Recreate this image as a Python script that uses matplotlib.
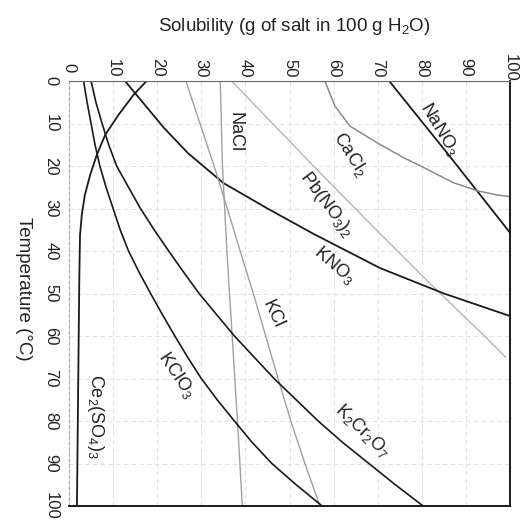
# Solubility curves of some salts, drawn turned on its side:
# solubility runs along the top, temperature runs down the left side.

import matplotlib
matplotlib.use("Agg")
import matplotlib.pyplot as plt


# Data (temperature in deg C, solubility in g / 100 g water)

ticks = [0, 10, 20, 30, 40, 50, 60, 70, 80, 90, 100]
tick_labels = ["0", "10", "20", "30", "40", "50", "60", "70", "80", "90", "100"]

nano3_t = [0, 16.5, 27, 35.7]
nano3_s = [72.6, 85.4, 93.4, 100]

cacl2_t = [0, 5.9, 10.6, 14.5, 18, 20.7, 23.9, 25.8, 26.8, 27.2]
cacl2_s = [58, 60.3, 63.7, 69.8, 75.8, 81.1, 87.1, 92.5, 97, 100]

pbno3_t = [0, 12, 24, 36, 48, 60, 65]
pbno3_s = [36.9, 48, 59.2, 70.6, 82.2, 94.2, 99]

kno3_t = [0, 6, 11, 17, 24, 30, 36, 44, 50, 55.3]
kno3_s = [12.7, 17.5, 21.5, 27, 35, 45, 55.5, 70.5, 85, 100]

nacl_t = [0, 20, 40, 60, 80, 100]
nacl_s = [34.3, 34.8, 35.8, 37, 38.2, 39.3]

kcl_t = [0, 10, 20, 30, 40, 50, 60, 70, 80, 90, 100]
kcl_s = [26.5, 29.7, 32.9, 35.9, 38.8, 41.8, 44.6, 47.4, 50.3, 53.5, 56.9]

k2cr2o7_t = [0, 5, 10, 15, 20, 25, 30, 35, 40, 45, 50, 55, 60, 65, 70, 75, 80, 85, 90, 95, 100]
k2cr2o7_s = [5, 6.1, 7.5, 9, 10.8, 13.5, 16.2, 19.3, 22.6, 26, 29.5, 33.5, 37.5,
             42, 46.5, 51.5, 56.5, 62, 68, 74, 80.3]

kclo3_t = [0, 5, 10, 15, 20, 25, 30, 35, 40, 45, 50, 55, 60, 65, 70, 75, 80, 85, 90, 95, 100]
kclo3_s = [3.3, 4.1, 5, 5.9, 7, 8.4, 10, 11.6, 13.5, 15.9, 18.5, 21.2, 24, 26.9,
           30, 33.6, 37.5, 41.5, 46, 51.5, 57.4]

ce2so43_t = [0, 3.3, 8, 12.7, 17.4, 22.1, 26.8, 31.5, 36.2, 45.5, 60, 80, 100]
ce2so43_s = [17.6, 14.6, 11.2, 8.2, 6.3, 4.8, 3.6, 2.9, 2.5, 2.35, 2.2, 2.0, 1.8]

salt_names = ["NaNO$_3$", "CaCl$_2$", "Pb(NO$_3$)$_2$", "NaCl", "KNO$_3$",
              "KCl", "KClO$_3$", "K$_2$Cr$_2$O$_7$", "Ce$_2$(SO$_4$)$_3$"]
name_s = [84.1, 63.7, 58.4, 37.6, 60.3, 46.3, 24.5, 66.6, 5.9]
name_t = [11.3, 17.2, 29, 12.1, 43.4, 54.9, 69.2, 82.2, 78.9]
name_angle = [-59, -58, -53, -90, -41, -65, -56, -44, -90]


plt.rcParams['font.family'] = ['Liberation Sans', 'DejaVu Sans']
plt.rcParams['mathtext.default'] = 'regular'

dark = '#1a1a1a'
grey = '#a0a0a0'


def draw_curves(ax):
    ax.plot(nano3_s, nano3_t, color=dark, lw=1.3)
    ax.plot(cacl2_s, cacl2_t, color='#8a8a8a', lw=1.1)
    ax.plot(pbno3_s, pbno3_t, color='#b4b4b4', lw=1.0)
    ax.plot(kno3_s, kno3_t, color=dark, lw=1.3)
    ax.plot(nacl_s, nacl_t, color=grey, lw=1.0)
    ax.plot(kcl_s, kcl_t, color=grey, lw=1.0)
    ax.plot(k2cr2o7_s, k2cr2o7_t, color=dark, lw=1.2)
    ax.plot(kclo3_s, kclo3_t, color=dark, lw=1.2)
    ax.plot(ce2so43_s, ce2so43_t, color=dark, lw=1.3)


def draw_names(ax):
    for name, s, t, a in zip(salt_names, name_s, name_t, name_angle):
        ax.text(s, t, name, rotation=a, rotation_mode='anchor',
                ha='center', va='center', fontsize=13, color='#222222')


def main():
    fig = plt.figure(figsize=(5.24, 5.22), dpi=100)
    ax = fig.add_axes([69 / 524, 1 - 506 / 522, 441 / 524, 425 / 522])

    ax.set_xlim(0, 100)
    ax.set_ylim(100, 0)                      # temperature grows downwards

    # faint dashed grid every 10 units
    for v in ticks[1:-1]:
        ax.axvline(v, color='#e2e2e2', lw=0.8, ls=(0, (4, 3)), zorder=0)
        ax.axhline(v, color='#e2e2e2', lw=0.8, ls=(0, (4, 3)), zorder=0)

    draw_curves(ax)
    draw_names(ax)

    # solubility axis on top, labels turned on their side
    ax.xaxis.tick_top()
    ax.set_xticks(ticks, tick_labels, rotation=-90, va='center', ha='center')
    ax.tick_params(axis='x', length=0, pad=9.5, labelsize=12, colors='#222222')
    ax.set_yticks(ticks, tick_labels, rotation=-90, va='center', ha='center')
    ax.tick_params(axis='y', length=0, pad=13, labelsize=12, colors='#222222')

    ax.xaxis.set_label_position('top')
    ax.set_xlabel("Solubility (g of salt in 100 g H$_2$O)", fontsize=13.5,
                  color='#222222', va='center')
    ax.xaxis.set_label_coords(0.51, 1.128)
    ax.set_ylabel("Temperature (\u00b0C)", fontsize=13.5, rotation=-90,
                  color='#222222', va='center', ha='center')
    ax.yaxis.set_label_coords(-0.104, 0.51)

    # scanned look: top and left frame faint and broken, right and bottom solid
    ax.spines['top'].set_color('#666666')
    ax.spines['top'].set_linestyle((0, (3, 1)))
    ax.spines['left'].set_color('#aaaaaa')
    ax.spines['left'].set_linestyle((0, (3, 2)))
    ax.spines['right'].set_color(dark)
    ax.spines['right'].set_linewidth(1.4)
    ax.spines['bottom'].set_color(dark)
    ax.spines['bottom'].set_linewidth(1.4)

    fig.savefig("out.png", dpi=100)


if __name__ == "__main__":
    main()
